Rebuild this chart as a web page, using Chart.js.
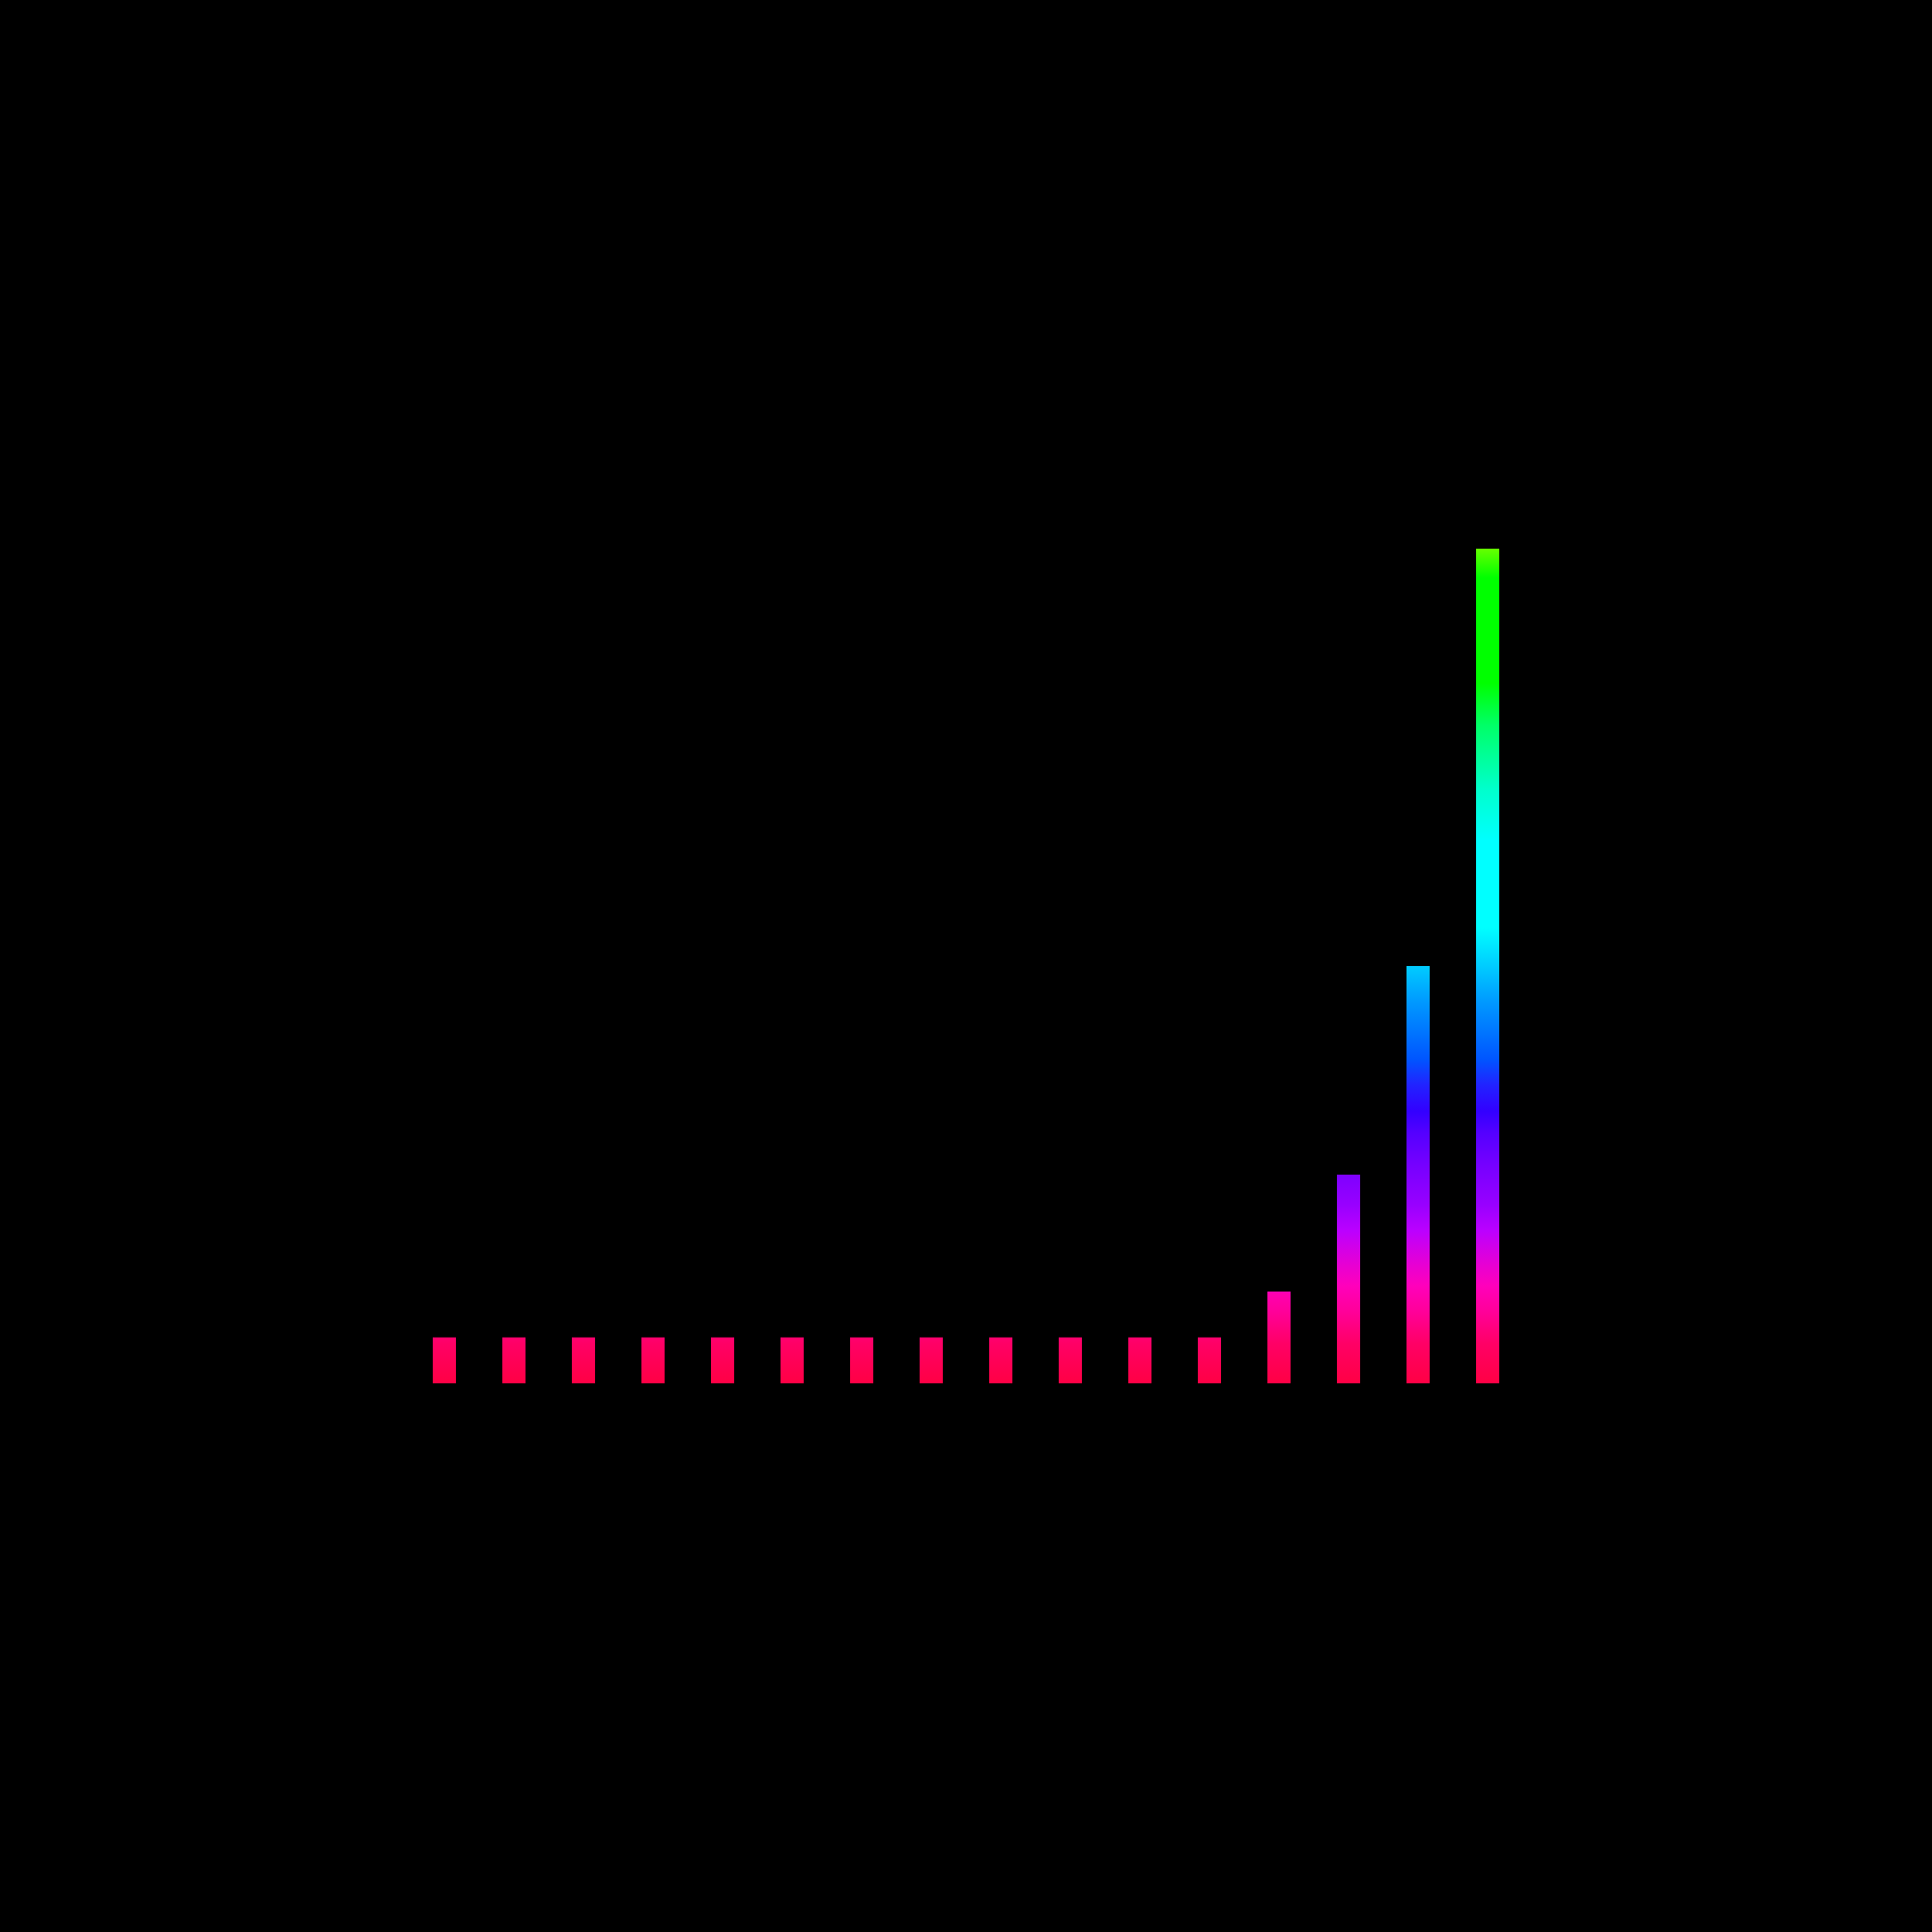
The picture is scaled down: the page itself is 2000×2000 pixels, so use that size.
<!DOCTYPE html>
<html>
<head>
<meta charset="utf-8">
<script src="https://cdn.jsdelivr.net/npm/chart.js@4"></script>
<style>
  html, body { margin: 0; padding: 0; background: #000; }
  #wrap { width: 2000px; height: 2000px; }
</style>
</head>
<body>
<div id="wrap"><canvas id="bars"></canvas></div>
<script>
const labels = ['1', '2', '3', '4', '5', '6', '7', '8', '9', '10', '11', '12', '13', '14', '15', '16'];
const values = [11, 11, 11, 11, 11, 11, 11, 11, 11, 11, 11, 11, 22, 50, 100, 200];

// rainbow stops, offset measured from the bottom of the plot to its top
const gradientStops = [
  [0.000, '#ff0044'],
  [0.048, '#ff0066'],
  [0.086, '#ff0099'],
  [0.117, '#ff00bb'],
  [0.152, '#dd00dd'],
  [0.183, '#bb00ff'],
  [0.213, '#9900ff'],
  [0.260, '#7700ff'],
  [0.299, '#5500ff'],
  [0.326, '#3300ff'],
  [0.357, '#2222ff'],
  [0.388, '#0055ff'],
  [0.457, '#0099ff'],
  [0.500, '#00ccff'],
  [0.546, '#00ffff'],
  [0.650, '#00ffff'],
  [0.712, '#00ffcc'],
  [0.789, '#00ff66'],
  [0.839, '#00ff00'],
  [0.965, '#00ff00'],
  [1.000, '#66ff00']
];

function rainbow(context) {
  const area = context.chart.chartArea;
  if (!area) {
    return '#ff0044';
  }
  const ctx = context.chart.ctx;
  const g = ctx.createLinearGradient(0, area.bottom, 0, area.top);
  gradientStops.forEach((stop) => g.addColorStop(stop[0], stop[1]));
  return g;
}

new Chart(document.getElementById('bars'), {
  type: 'bar',
  data: {
    labels: labels,
    datasets: [{
      data: values,
      backgroundColor: rainbow,
      borderWidth: 0,
      barPercentage: 1,
      categoryPercentage: 1 / 3
    }]
  },
  options: {
    responsive: true,
    maintainAspectRatio: false,
    animation: false,
    layout: {
      padding: { left: 424, right: 424, top: 568, bottom: 568 }
    },
    scales: {
      x: { display: false },
      y: { display: false, min: 0, max: 200 }
    },
    plugins: {
      legend: { display: false },
      tooltip: { enabled: false }
    }
  }
});
</script>
</body>
</html>
